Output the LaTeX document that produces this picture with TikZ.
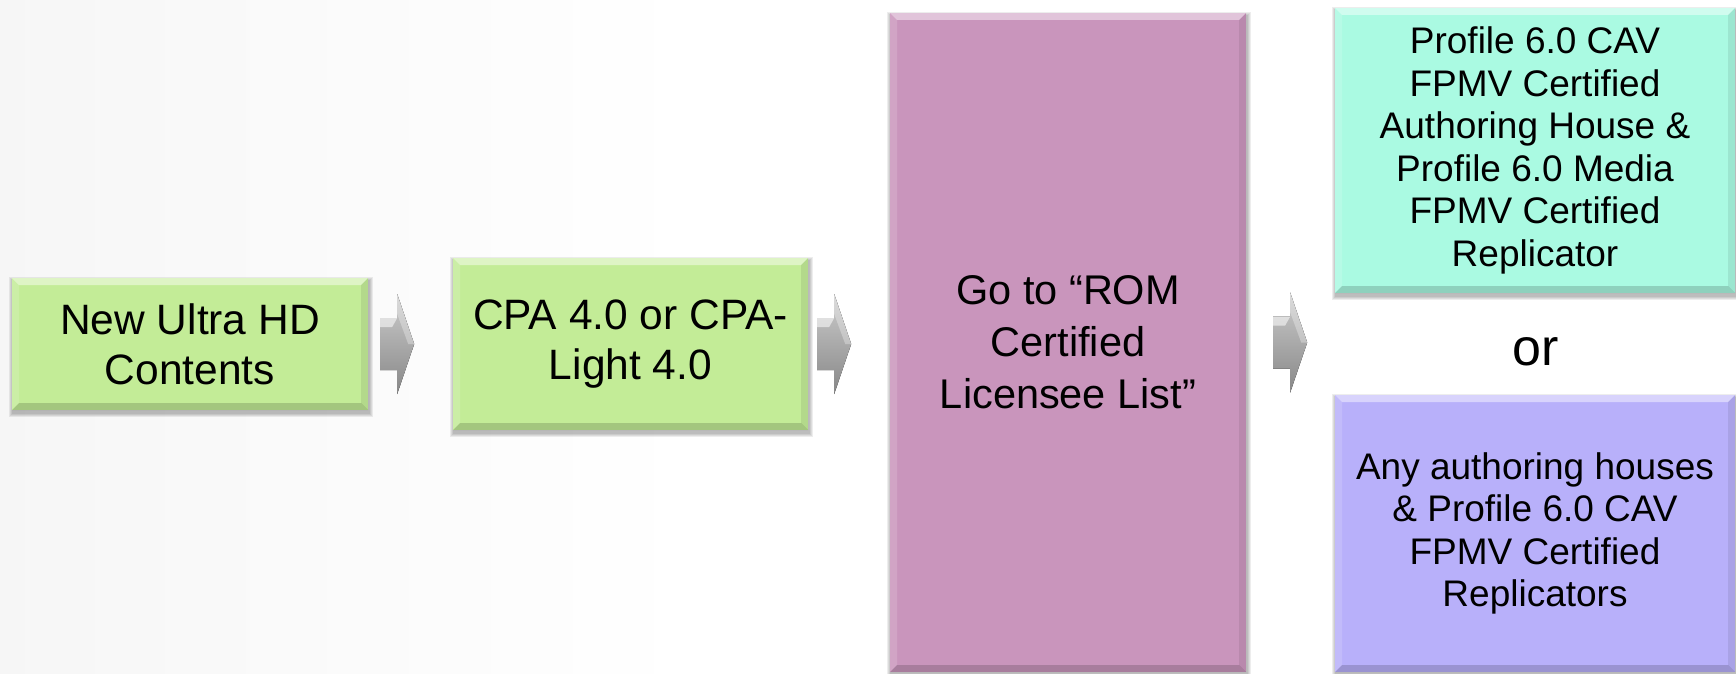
\documentclass[tikz,border=0pt]{standalone}
\usepackage{fontspec}
\setmainfont{Liberation Sans}
\usetikzlibrary{calc}
\pgfdeclarelayer{bg}
\pgfdeclarelayer{shadowlayer}
\pgfsetlayers{bg,shadowlayer,main}

\definecolor{boxgreen}{RGB}{195,236,151}
\definecolor{boxpink}{RGB}{201,149,188}
\definecolor{boxteal}{RGB}{170,250,226}
\definecolor{boxpurple}{RGB}{184,176,250}

\pgfdeclarehorizontalshading{bgshade}{100bp}{color(0bp)=(black!10); color(12bp)=(black!6); color(30bp)=(black!2.5); color(45bp)=(white); color(100bp)=(white)}

\tikzset{
  bevel/.style={path picture={
    \fill[white,opacity=0.45] (path picture bounding box.north west) -- (path picture bounding box.north east)
      -- ([shift={(-7pt,-7pt)}]path picture bounding box.north east) -- ([shift={(7pt,-7pt)}]path picture bounding box.north west) -- cycle;
    \fill[white,opacity=0.15] (path picture bounding box.north west) -- ([shift={(7pt,-7pt)}]path picture bounding box.north west)
      -- ([shift={(7pt,7pt)}]path picture bounding box.south west) -- (path picture bounding box.south west) -- cycle;
    \fill[black,opacity=0.08] (path picture bounding box.north east) -- ([shift={(-7pt,-7pt)}]path picture bounding box.north east)
      -- ([shift={(-7pt,7pt)}]path picture bounding box.south east) -- (path picture bounding box.south east) -- cycle;
    \fill[black,opacity=0.16] (path picture bounding box.south west) -- (path picture bounding box.south east)
      -- ([shift={(-7pt,7pt)}]path picture bounding box.south east) -- ([shift={(7pt,7pt)}]path picture bounding box.south west) -- cycle;
  }},
  flowbox/.style={rectangle, inner sep=0pt, align=center, text=black, bevel},
  bigtext/.style={font=\fontsize{42.5}{50}\selectfont},
  smalltext/.style={font=\fontsize{37}{42.5}\selectfont},
  chevshade/.style={top color=black!20, bottom color=black!47},
}

\newcommand\mychev[1]{%
  \fill[chevshade] (#1) ++(0,-26) -- ++(17,0) -- ++(0,-24) -- ++(17,50) -- ++(-17,50) -- ++(0,-24) -- ++(-17,0) -- cycle;
  \fill[white,opacity=0.55] (#1) ++(0,-26) -- ++(17,0) -- ++(-5,9) -- ++(-12,0) -- cycle;
  \fill[white,opacity=0.3] (#1) ++(17,-50) -- ++(17,50) -- ++(-6,0) -- ++(-11,-30) -- cycle;
}

\begin{document}
\begin{tikzpicture}[x=1pt,y=-1pt]
\useasboundingbox (0,0) rectangle (1736,674);
\begin{pgfonlayer}{bg}
  \fill[shading=bgshade] (0,0) rectangle (1736,674);
\end{pgfonlayer}

\node[flowbox, bigtext, fill=boxgreen, minimum width=356pt, minimum height=132pt] (b1) at (190,344)
  {New Ultra HD\\Contents};
\node[flowbox, bigtext, fill=boxgreen, minimum width=355pt, minimum height=172pt] (b2) at (630.5,344)
  {CPA 4.0 or CPA-\\Light 4.0};
\node[flowbox, font=\fontsize{41.5}{52}\selectfont, fill=boxpink, minimum width=356pt, minimum height=659pt] (b3) at (1068,342.5)
  {Go to “ROM\\Certified\\Licensee List”};
\node[flowbox, smalltext, fill=boxteal, minimum width=400pt, minimum height=285pt] (b4) at (1535,150.5)
  {Profile 6.0 CAV\\FPMV Certified\\Authoring House \&\\Profile 6.0 Media\\FPMV Certified\\Replicator};
\node[flowbox, smalltext, fill=boxpurple, minimum width=400pt, minimum height=277pt] (b5) at (1535,533.5)
  {Any authoring houses\\\& Profile 6.0 CAV\\FPMV Certified\\Replicators};
\node[font=\fontsize{52}{60}\selectfont, anchor=base, inner sep=0pt] (ortext) at (1536,365) {or};

\begin{pgfonlayer}{shadowlayer}
  \foreach \n in {b1,b2,b3,b4,b5}{
    \foreach \s in {1,2,3,4}{
      \fill[black,opacity=0.07] ([shift={({-\s*1pt+1pt},{\s*1pt-3pt})}]\n.north west)
        rectangle ([shift={({\s*1pt+1pt},{-\s*1pt-3pt})}]\n.south east);
    }
  }
\end{pgfonlayer}

\coordinate (a1) at ([xshift=12pt]b1.east);
\coordinate (a2) at ([xshift=9pt]b2.east);
\coordinate (a3) at ($(b3.east)+(27,0)$);
\mychev{a1}
\mychev{a2}
\mychev{a3}
\end{tikzpicture}
\end{document}
